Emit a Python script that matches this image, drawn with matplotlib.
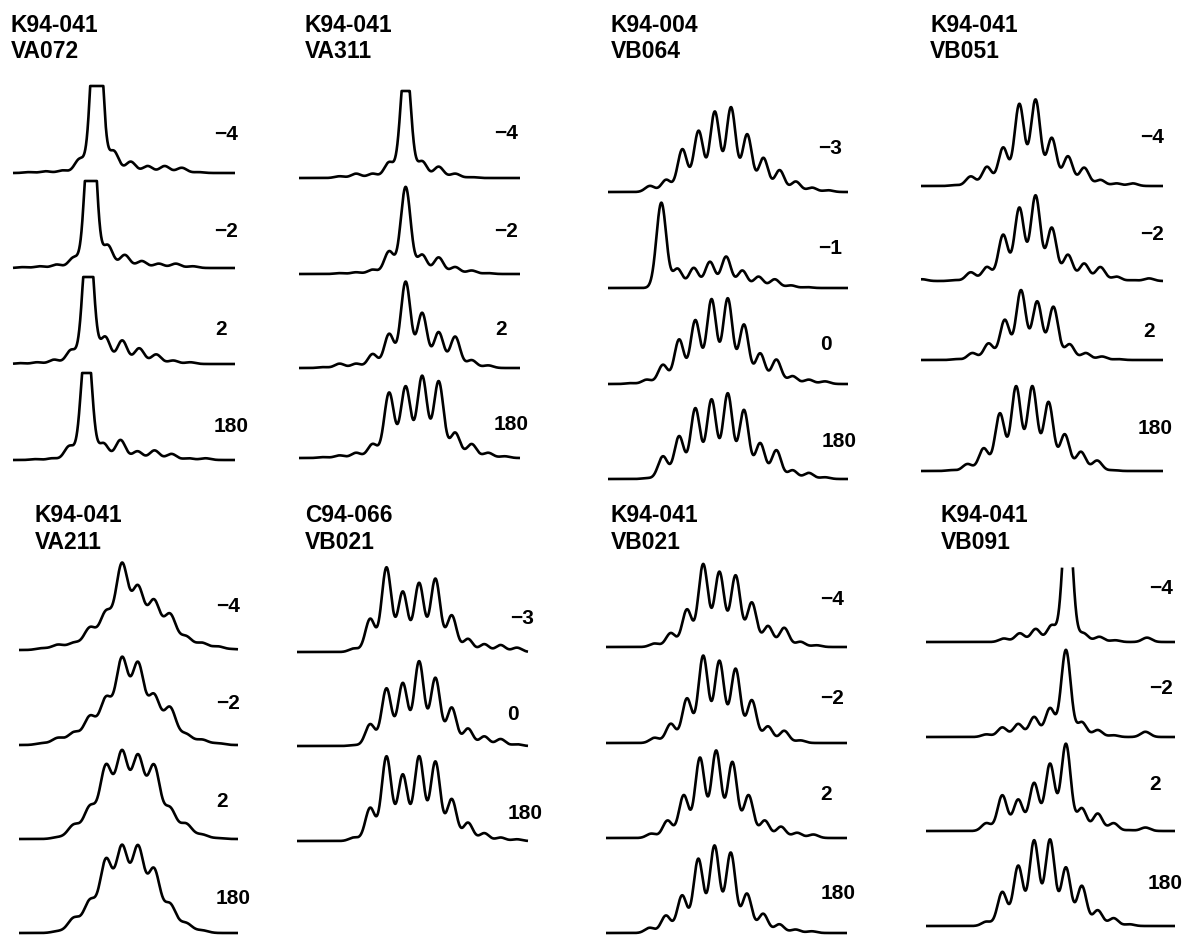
import numpy as np
import matplotlib
matplotlib.use("Agg")
import matplotlib.pyplot as plt

# ---------------- data: peak heights (relative units) per trace ----------------
va072_titles = ["K94-041", "VA072"]
va072_labels = ["\u22124", "\u22122", "2", "180"]
va072_m4 = [0, 0.01, 0.02, 0.03, 0.16, 2.25, 0.25, 0.13, 0.08, 0.08, 0.06, 0.01, 0]
va072_m2 = [0, 0.01, 0.02, 0.04, 0.12, 2.0, 0.26, 0.15, 0.08, 0.05, 0.05, 0.02, 0]
va072_p2 = [0, 0.01, 0.02, 0.05, 0.16, 1.62, 0.31, 0.27, 0.18, 0.11, 0.04, 0.02, 0]
va072_180 = [0, 0, 0.01, 0.02, 0.16, 1.47, 0.19, 0.23, 0.10, 0.11, 0.07, 0.02, 0.02]

va311_titles = ["K94-041", "VA311"]
va311_labels = ["\u22124", "\u22122", "2", "180"]
va311_m4 = [0, 0, 0.02, 0.05, 0.05, 0.18, 1.39, 0.19, 0.13, 0.05, 0.01, 0, 0, 0]
va311_m2 = [0, 0, 0.01, 0.02, 0.05, 0.26, 1.0, 0.22, 0.19, 0.08, 0.04, 0.01, 0, 0]
va311_p2 = [0, 0.01, 0.05, 0.05, 0.16, 0.39, 0.99, 0.63, 0.41, 0.36, 0.09, 0.03, 0, 0]
va311_180 = [0, 0.01, 0.03, 0.06, 0.16, 0.75, 0.82, 0.94, 0.88, 0.29, 0.16, 0.06, 0.02, 0]

vb064_titles = ["K94-004", "VB064"]
vb064_labels = ["\u22123", "\u22121", "0", "180"]
vb064_m3 = [0, 0, 0.07, 0.14, 0.49, 0.70, 0.92, 0.97, 0.66, 0.39, 0.25, 0.12, 0.05, 0.02, 0]
vb064_m1 = [0, 0, 0, 0.98, 0.22, 0.23, 0.30, 0.36, 0.20, 0.13, 0.10, 0.03, 0.01, 0, 0]
vb064_0 = [0, 0.01, 0.05, 0.22, 0.51, 0.73, 0.97, 0.98, 0.68, 0.35, 0.28, 0.09, 0.05, 0.03, 0]
vb064_180 = [0, 0, 0.01, 0.26, 0.49, 0.81, 0.91, 0.98, 0.79, 0.41, 0.33, 0.10, 0.07, 0.02, 0]

vb051_titles = ["K94-041", "VB051"]
vb051_labels = ["\u22124", "\u22122", "2", "180"]
vb051_m4 = [0, 0, 0.01, 0.11, 0.22, 0.44, 0.94, 0.99, 0.55, 0.34, 0.21, 0.07, 0.03, 0.03, 0]
vb051_m2 = [0.02, 0, 0.01, 0.10, 0.16, 0.53, 0.84, 0.98, 0.61, 0.30, 0.20, 0.16, 0.05, 0.01, 0.03]
vb051_p2 = [0, 0, 0.01, 0.08, 0.19, 0.46, 0.80, 0.67, 0.61, 0.18, 0.08, 0.04, 0.01, 0, 0]
vb051_180 = [0, 0, 0.01, 0.08, 0.26, 0.66, 0.97, 0.97, 0.79, 0.42, 0.22, 0.12, 0.01, 0, 0]

va211_titles = ["K94-041", "VA211"]
va211_labels = ["\u22124", "\u22122", "2", "180"]
va211_m4 = [0, 0.02, 0.06, 0.08, 0.25, 0.42, 0.97, 0.70, 0.55, 0.40, 0.15, 0.08, 0.04, 0.01]
va211_m2 = [0, 0.02, 0.08, 0.14, 0.32, 0.52, 0.97, 0.91, 0.55, 0.42, 0.12, 0.06, 0.02, 0]
va211_p2 = [0, 0, 0.02, 0.16, 0.36, 0.82, 0.97, 0.92, 0.82, 0.34, 0.17, 0.05, 0.01, 0]
va211_180 = [0, 0, 0.02, 0.17, 0.36, 0.82, 0.96, 0.96, 0.71, 0.32, 0.11, 0.03, 0, 0]

c066_titles = ["C94-066", "VB021"]
c066_labels = ["\u22123", "0", "180"]
c066_m3 = [0, 0, 0, 0.04, 0.38, 0.97, 0.69, 0.79, 0.84, 0.42, 0.15, 0.09, 0.08, 0.05]
c066_0 = [0, 0, 0, 0.01, 0.25, 0.66, 0.72, 0.97, 0.78, 0.44, 0.20, 0.11, 0.08, 0.02]
c066_180 = [0, 0, 0, 0.04, 0.38, 0.97, 0.76, 0.97, 0.91, 0.48, 0.21, 0.09, 0.04, 0.02]

vb021_titles = ["K94-041", "VB021"]
vb021_labels = ["\u22124", "\u22122", "2", "180"]
vb021_m4 = [0, 0, 0, 0.04, 0.16, 0.43, 0.95, 0.86, 0.82, 0.51, 0.24, 0.22, 0.06, 0.02, 0]
vb021_m2 = [0, 0, 0, 0.06, 0.22, 0.51, 1.0, 0.94, 0.85, 0.49, 0.19, 0.14, 0.03, 0, 0]
vb021_p2 = [0, 0, 0, 0.05, 0.20, 0.49, 0.92, 1.0, 0.87, 0.49, 0.20, 0.13, 0.06, 0.04, 0]
vb021_180 = [0, 0, 0, 0.06, 0.20, 0.43, 0.85, 1.0, 0.92, 0.45, 0.22, 0.10, 0.04, 0.02, 0]

vb091_titles = ["K94-041", "VB091"]
vb091_labels = ["\u22124", "\u22122", "2", "180"]
vb091_m4 = [0, 0, 0, 0, 0, 0.04, 0.10, 0.15, 0.19, 1.6, 0.10, 0.06, 0.02, 0, 0.05, 0]
vb091_m2 = [0, 0, 0, 0, 0.03, 0.11, 0.15, 0.23, 0.33, 1.0, 0.17, 0.08, 0.02, 0, 0.06, 0]
vb091_p2 = [0, 0, 0, 0, 0.09, 0.41, 0.36, 0.55, 0.77, 1.0, 0.26, 0.20, 0.09, 0.01, 0.04, 0]
vb091_180 = [0, 0, 0, 0, 0.05, 0.39, 0.69, 0.98, 0.99, 0.67, 0.46, 0.18, 0.09, 0.02, 0, 0]

# ---------------- layout (pixels) ----------------
W, H = 1186, 935
TRACE_H = 87

panels = [
    dict(titles=va072_titles, labels=va072_labels,
         traces=[va072_m4, va072_m2, va072_p2, va072_180],
         x0=13, x1=235, idx0=10, sp=17.0, base=[173, 268, 364, 460],
         shift=[0.1, -0.25, -0.4, -0.5], sigma=0.30, cap=[1.0, 1.0, 1.0, 1.0],
         cut=[None] * 4, title_xy=(11, 32, 58),
         label_xy=[(214, 133), (214, 230), (215, 328), (214, 425)]),
    dict(titles=va311_titles, labels=va311_labels,
         traces=[va311_m4, va311_m2, va311_p2, va311_180],
         x0=299, x1=520, idx0=305, sp=16.5, base=[178, 274, 368, 458],
         shift=[0.1, 0.1, 0.1, 0.1], sigma=0.30, cap=[1.0, None, None, None],
         cut=[None] * 4, title_xy=(305, 32, 58),
         label_xy=[(494, 132), (494, 230), (495, 328), (494, 423)]),
    dict(titles=vb064_titles, labels=vb064_labels,
         traces=[vb064_m3, vb064_m1, vb064_0, vb064_180],
         x0=608, x1=848, idx0=617.6, sp=16.2, base=[192, 288, 384, 479],
         shift=[0.0, -0.3, -0.2, -0.2], sigma=0.30, cap=[None] * 4,
         cut=[None] * 4, title_xy=(611, 32, 58),
         label_xy=[(818, 147), (818, 247), (820, 343), (822, 440)]),
    dict(titles=vb051_titles, labels=vb051_labels,
         traces=[vb051_m4, vb051_m2, vb051_p2, vb051_180],
         x0=921, x1=1163, idx0=925.4, sp=16.2, base=[186, 281, 360, 471],
         shift=[-0.2, -0.2, -0.1, -0.4], sigma=0.30, cap=[None] * 4,
         cut=[None] * 4, title_xy=(930, 32, 58),
         label_xy=[(1140, 136), (1140, 233), (1143, 330), (1138, 427)]),
    dict(titles=va211_titles, labels=va211_labels,
         traces=[va211_m4, va211_m2, va211_p2, va211_180],
         x0=19, x1=238, idx0=26, sp=16.0, base=[650, 745, 839, 933],
         shift=[0.0, 0.0, 0.0, 0.0], sigma=0.38, cap=[None] * 4,
         cut=[None] * 4, title_xy=(35, 522, 549),
         label_xy=[(216, 605), (216, 702), (216, 800), (216, 897)]),
    dict(titles=c066_titles, labels=c066_labels,
         traces=[c066_m3, c066_0, c066_180],
         x0=297, x1=528, idx0=305, sp=16.3, base=[652, 746, 841],
         shift=[0.0, 0.0, 0.0], sigma=0.30, cap=[None] * 3,
         cut=[None] * 3, title_xy=(305, 522, 549),
         label_xy=[(510, 617), (507, 713), (508, 812)]),
    dict(titles=vb021_titles, labels=vb021_labels,
         traces=[vb021_m4, vb021_m2, vb021_p2, vb021_180],
         x0=606, x1=847, idx0=606, sp=16.2, base=[647, 743, 838, 933],
         shift=[0.0, 0.0, -0.2, -0.3], sigma=0.30, cap=[None] * 4,
         cut=[None] * 4, title_xy=(611, 522, 549),
         label_xy=[(820, 598), (820, 697), (820, 793), (821, 892)]),
    dict(titles=vb091_titles, labels=vb091_labels,
         traces=[vb091_m4, vb091_m2, vb091_p2, vb091_180],
         x0=926, x1=1175, idx0=926, sp=15.9, base=[642, 737, 831, 926],
         shift=[-0.1, -0.2, -0.2, -0.2], sigma=0.30, cap=[None] * 4,
         cut=[0.87, None, None, None], title_xy=(941, 522, 549),
         label_xy=[(1149, 587), (1149, 687), (1149, 783), (1148, 882)]),
]

plt.rcParams["font.family"] = ["Liberation Sans", "DejaVu Sans"]
fig = plt.figure(figsize=(W / 100, H / 100), dpi=100)
fig.patch.set_facecolor("white")

TITLE_FS = 16.5
LABEL_FS = 15
LW = 1.9


def draw_trace(p, i):
    heights = np.asarray(p["traces"][i], dtype=float)
    base = p["base"][i]
    ax = fig.add_axes([p["x0"] / W, (H - base) / H,
                       (p["x1"] - p["x0"]) / W, TRACE_H / H])
    lo = (p["x0"] - p["idx0"]) / p["sp"]
    hi = (p["x1"] - p["idx0"]) / p["sp"]
    ax.set_xlim(lo, hi)
    ax.set_ylim(0, 1)
    ax.axis("off")
    centers = np.arange(len(heights)) + p["shift"][i]
    xs = np.linspace(lo, hi, 3000)
    ys = (heights[None, :] *
          np.exp(-(xs[:, None] - centers[None, :]) ** 2 / (2 * p["sigma"] ** 2))).sum(axis=1)
    if p["cap"][i] is not None:
        ys = np.minimum(ys, p["cap"][i])
    if p["cut"][i] is not None:
        ys = np.where(ys > p["cut"][i], np.nan, ys)
    ax.plot(xs, ys, color="black", lw=LW, clip_on=False,
            solid_joinstyle="round", solid_capstyle="butt")


for p in panels:
    for i in range(len(p["traces"])):
        draw_trace(p, i)
    tx, ty1, ty2 = p["title_xy"]
    fig.text(tx / W, 1 - ty1 / H, p["titles"][0], fontsize=TITLE_FS,
             fontweight="bold", ha="left", va="baseline")
    fig.text(tx / W, 1 - ty2 / H, p["titles"][1], fontsize=TITLE_FS,
             fontweight="bold", ha="left", va="baseline")
    for lab, (lx, ly) in zip(p["labels"], p["label_xy"]):
        fig.text(lx / W, 1 - (ly + 7) / H, lab, fontsize=LABEL_FS,
                 fontweight="bold", ha="left", va="baseline")

fig.savefig("out.png", dpi=100, facecolor="white")
